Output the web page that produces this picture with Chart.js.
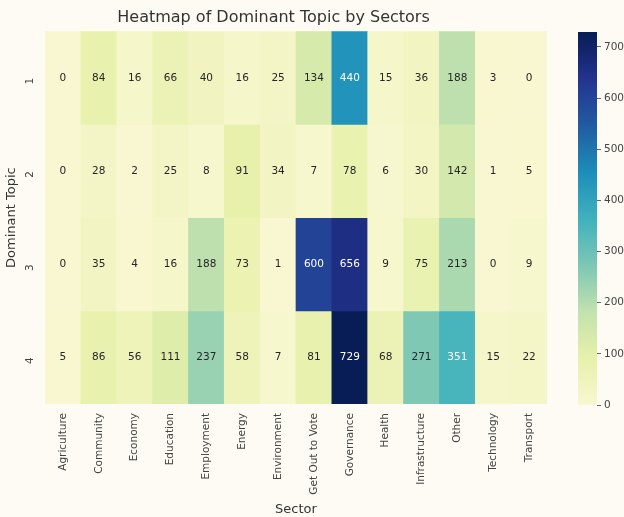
<!DOCTYPE html>
<html><head><meta charset="utf-8">
<script src="https://cdn.jsdelivr.net/npm/chart.js@4.4.1/dist/chart.umd.min.js"></script>
<style>
html,body{margin:0;padding:0;background:#fdfbf3;}
#wrap{position:relative;width:624px;height:517px;overflow:hidden;}
#main{position:absolute;left:0;top:0;}
#cb{position:absolute;left:560px;top:0;}
</style></head><body>
<div id="wrap"><canvas id="main" width="624" height="517"></canvas><canvas id="cb" width="64" height="517"></canvas></div>
<script>
const sectors = ['Agriculture','Community','Economy','Education','Employment','Energy','Environment','Get Out to Vote','Governance','Health','Infrastructure','Other','Technology','Transport'];
const topics = ['1','2','3','4'];
const topic1 = [0,84,16,66,40,16,25,134,440,15,36,188,3,0];
const topic2 = [0,28,2,25,8,91,34,7,78,6,30,142,1,5];
const topic3 = [0,35,4,16,188,73,1,600,656,9,75,213,0,9];
const topic4 = [5,86,56,111,237,58,7,81,729,68,271,351,15,22];
const rows = [topic1, topic2, topic3, topic4];
const cbTicks = [0,100,200,300,400,500,600,700];

const FONT = 'DejaVu Sans';
const all = rows.flat();
const vmin = Math.min(...all), vmax = Math.max(...all);

const YLGNBU = [[1.0,1.0,0.85098],[0.92941,0.97255,0.69412],[0.78039,0.91373,0.70588],[0.49804,0.80392,0.73333],[0.25490,0.71373,0.76863],[0.11373,0.56863,0.75294],[0.13333,0.36863,0.65882],[0.14510,0.20392,0.58039],[0.03137,0.11373,0.34510]];
const TINT = [0.975, 0.97, 0.965];
function cmapRGB(t){
  t = Math.max(0, Math.min(1, t));
  const p = t*(YLGNBU.length-1); const i = Math.min(Math.floor(p), YLGNBU.length-2); const f = p-i;
  return YLGNBU[i].map((c,k)=> c + (YLGNBU[i+1][k]-c)*f);
}
function toCss(rgb){ return 'rgb(' + rgb.map((c,k)=>Math.round(c*TINT[k]*255)).join(',') + ')'; }
function colorFor(v){ return toCss(cmapRGB((v-vmin)/(vmax-vmin))); }
function lum(rgb){ const l = rgb.map(c=> c<=0.03928 ? c/12.92 : Math.pow((c+0.055)/1.055,2.4)); return 0.2126*l[0]+0.7152*l[1]+0.0722*l[2]; }
function textColor(v){ return lum(cmapRGB((v-vmin)/(vmax-vmin))) > 0.408 ? '#262626' : '#ffffff'; }

const cellLabels = {
  id: 'cellLabels',
  afterDatasetsDraw(chart){
    const ctx = chart.ctx;
    ctx.save();
    ctx.font = '10.5px "' + FONT + '"';
    ctx.textAlign = 'center';
    ctx.textBaseline = 'middle';
    rows.forEach((row, i) => {
      const meta = chart.getDatasetMeta(i);
      meta.data.forEach((bar, j) => {
        const p = bar.getProps(['x','y','base'], true);
        ctx.fillStyle = textColor(row[j]);
        ctx.fillText(String(row[j]), p.x, (p.y + p.base)/2);
      });
    });
    ctx.restore();
  }
};

new Chart(document.getElementById('main'), {
  type: 'bar',
  data: {
    labels: sectors,
    datasets: rows.map((row, i) => ({
      label: topics[i],
      data: row.map(() => [i + 0.5, i + 1.5]),
      backgroundColor: row.map(colorFor),
      borderWidth: 0,
      borderSkipped: false,
      barPercentage: 1,
      categoryPercentage: 1,
      grouped: false
    }))
  },
  options: {
    responsive: false,
    animation: false,
    layout: { padding: { left: 0, right: 77, top: 0, bottom: 0 } },
    plugins: {
      legend: { display: false },
      tooltip: { enabled: false },
      title: { display: true, text: 'Heatmap of Dominant Topic by Sectors', color: '#333', font: { family: FONT, size: 16, weight: 'normal' }, padding: { top: 8, bottom: 4 } }
    },
    scales: {
      x: {
        grid: { display: false, drawTicks: false },
        border: { display: false },
        ticks: { autoSkip: false, minRotation: 90, maxRotation: 90, padding: 9, color: '#444', font: { family: FONT, size: 10.5 } },
        title: { display: true, text: 'Sector', color: '#333', font: { family: FONT, size: 13 }, padding: { top: 0, bottom: 0 } },
        afterFit: s => { s.height = 113; }
      },
      y: {
        type: 'linear', min: 0.5, max: 4.5, reverse: true,
        grid: { display: false, drawTicks: false },
        border: { display: false },
        afterBuildTicks: s => { s.ticks = topics.map((t, i) => ({ value: i + 1 })); },
        ticks: { callback: (v, idx) => topics[idx], minRotation: 90, maxRotation: 90, padding: 15, color: '#444', font: { family: FONT, size: 10.5 } },
        title: { display: true, text: 'Dominant Topic', color: '#333', font: { family: FONT, size: 13 }, padding: { top: 4, bottom: 0 } },
        afterFit: s => { s.width = 45; }
      }
    }
  },
  plugins: [cellLabels]
});

new Chart(document.getElementById('cb'), {
  type: 'bar',
  data: {
    labels: ['cb'],
    datasets: [{
      data: [[vmin, vmax]],
      backgroundColor: (c) => {
        const chart = c.chart; const ys = chart.scales.y;
        if (!chart.chartArea || !ys) return null;
        const g = chart.ctx.createLinearGradient(0, ys.getPixelForValue(vmin), 0, ys.getPixelForValue(vmax));
        for (let k = 0; k <= 32; k++) g.addColorStop(k/32, toCss(cmapRGB(k/32)));
        return g;
      },
      borderWidth: 0, borderSkipped: false, barPercentage: 1, categoryPercentage: 1
    }]
  },
  options: {
    responsive: false,
    animation: false,
    layout: { padding: { left: 18, top: 32, bottom: 112, right: 0 } },
    plugins: { legend: { display: false }, tooltip: { enabled: false } },
    scales: {
      x: { display: false },
      y: {
        position: 'right', min: vmin, max: vmax,
        afterBuildTicks: s => { s.ticks = cbTicks.map(v => ({ value: v })); },
        grid: { drawOnChartArea: false, drawTicks: true, tickLength: 4, color: '#666' },
        border: { display: false },
        ticks: { padding: 3, color: '#444', font: { family: FONT, size: 10.5 } },
        afterFit: s => { s.width = 27; }
      }
    }
  }
});
</script>
</body></html>
